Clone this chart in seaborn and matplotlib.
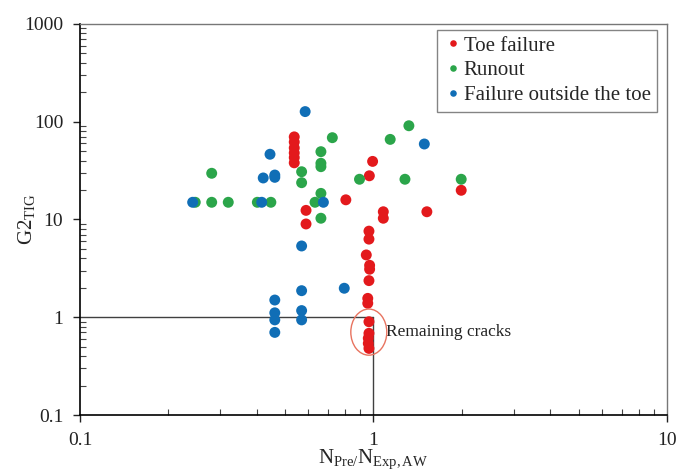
import matplotlib
matplotlib.use('Agg')
import matplotlib.pyplot as plt
from matplotlib.patches import Ellipse
import seaborn as sns
import pandas as pd

# Values
toe_x = [0.537, 0.537, 0.537, 0.537, 0.537, 0.537, 0.589, 0.589, 0.805, 0.968,
         0.993, 1.08, 1.08, 1.52, 1.99, 0.965, 0.965, 0.945, 0.97, 0.97,
         0.965, 0.956, 0.956, 0.965, 0.965, 0.96, 0.96, 0.965]
toe_y = [70, 62, 54, 48, 43, 38, 12.4, 9.0, 15.9, 28,
         39.3, 12.0, 10.3, 12.0, 19.9, 7.6, 6.3, 4.34, 3.4, 3.1,
         2.37, 1.56, 1.39, 0.90, 0.685, 0.61, 0.54, 0.48]

runout_x = [0.247, 0.281, 0.32, 0.402, 0.447, 0.281, 0.569, 0.569, 0.632, 0.662,
            0.662, 0.662, 0.662, 0.662, 0.724, 0.896, 1.14, 1.32, 1.28, 1.99]
runout_y = [15, 15, 15, 15, 15, 29.7, 30.8, 23.8, 15, 18.5,
            10.3, 49.4, 37.6, 34.7, 68.7, 25.8, 66, 91, 25.8, 25.8]

outside_x = [0.242, 0.416, 0.675, 1.49, 0.585, 0.444, 0.421, 0.461, 0.461, 0.569,
             0.461, 0.461, 0.461, 0.461, 0.569, 0.569, 0.569, 0.795]
outside_y = [15, 15, 15, 59.2, 127, 46.5, 26.6, 28.5, 27, 5.36,
             1.50, 1.11, 0.94, 0.70, 1.87, 1.17, 0.94, 1.98]

labels = ['Toe failure', 'Runout', 'Failure outside the toe']
colors = ['#E3191C', '#2BA54A', '#106EB6']

df = pd.concat([
    pd.DataFrame({'x': toe_x, 'y': toe_y, 'type': labels[0]}),
    pd.DataFrame({'x': runout_x, 'y': runout_y, 'type': labels[1]}),
    pd.DataFrame({'x': outside_x, 'y': outside_y, 'type': labels[2]}),
], ignore_index=True)

sns.set_theme(style='white')
plt.rcParams['font.family'] = ['Liberation Serif', 'DejaVu Serif']
plt.rcParams['mathtext.fontset'] = 'custom'
plt.rcParams['mathtext.rm'] = 'Liberation Serif'
plt.rcParams['mathtext.it'] = 'Liberation Serif:italic'

fig = plt.figure(figsize=(6.85, 4.75), dpi=100)
ax = fig.add_axes([0.1168, 0.1263, 0.8569, 0.8232])

sns.scatterplot(data=df, x='x', y='y', hue='type', hue_order=labels,
                palette=dict(zip(labels, colors)), s=62, edgecolor=None,
                linewidth=0, ax=ax, zorder=3)

ax.set_xscale('log')
ax.set_yscale('log')
ax.set_xlim(0.1, 10)
ax.set_ylim(0.1, 1000)

# reference lines
ax.plot([0.1, 1], [1, 1], color='#404040', lw=1, zorder=2)
ax.plot([1, 1], [0.1, 1], color='#404040', lw=1, zorder=2)

# remaining cracks marker
ell = Ellipse((0.492, 0.212), 0.0613, 0.118, transform=ax.transAxes,
              fill=False, edgecolor='#E8735F', lw=1, zorder=4)
ax.add_patch(ell)
ax.text(1.10, 0.7, 'Remaining cracks', fontsize=12.5, va='center', ha='left',
        color='#222222')

ax.set_xticks([0.1, 1, 10])
ax.set_xticklabels(['0.1', '1', '10'])
ax.set_yticks([0.1, 1, 10, 100, 1000])
ax.set_yticklabels(['0.1', '1', '10', '100', '1000'])
ax.tick_params(axis='both', which='major', direction='out', length=5, width=1,
               labelsize=14, colors='#222222', bottom=True, left=True, pad=7)
ax.tick_params(axis='both', which='minor', direction='in', length=4, width=0.8,
               bottom=True, left=True, colors='#444444')

for side in ['left', 'bottom']:
    ax.spines[side].set_color('black')
    ax.spines[side].set_linewidth(1.2)
for side in ['top', 'right']:
    ax.spines[side].set_color('#777777')
    ax.spines[side].set_linewidth(1)

ax.set_xlabel(r'N$_{\mathrm{Pre/}}$N$_{\mathrm{Exp,AW}}$', fontsize=15)
ax.xaxis.set_label_coords(0.5, -0.083)
ax.set_ylabel(r'G2$_{\mathrm{TIG}}$', fontsize=15)
ax.yaxis.set_label_coords(-0.073, 0.5)

handles, _ = ax.get_legend_handles_labels()
leg = ax.legend(handles=handles, labels=labels, loc='upper right',
                bbox_to_anchor=(0.983, 0.985), fontsize=15, markerscale=0.6,
                frameon=True, fancybox=False, edgecolor='#666666',
                handletextpad=0.0, labelspacing=0.25, borderpad=0.3,
                handlelength=1.0, borderaxespad=0.0)
leg.get_frame().set_linewidth(1)

fig.savefig('out.png', dpi=100)
